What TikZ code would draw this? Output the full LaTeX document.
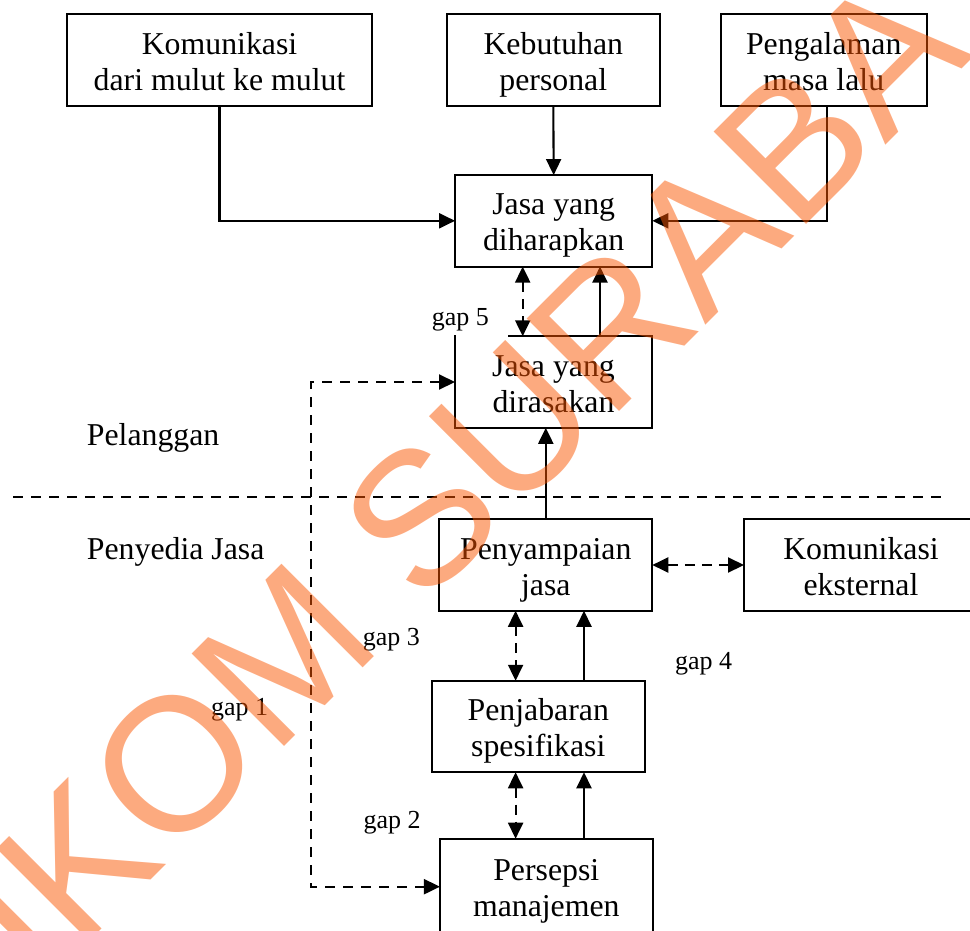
\documentclass[tikz,border=0pt]{standalone}
\usepackage{fontspec}
\setmainfont{Liberation Serif}
\newfontfamily\wmfont{Liberation Sans}
\usetikzlibrary{arrows.meta}
\definecolor{wm}{RGB}{250,85,0}
\begin{document}
\begin{tikzpicture}[x=1pt,y=-1pt,
  >={Triangle[length=16pt,width=15pt]},
  box/.style={draw, line width=2.1pt, inner sep=0pt, outer sep=0pt, align=center,
    font=\fontsize{31.8}{36}\selectfont, text height=60pt, text depth=0pt, minimum height=91.5pt},
  lbl/.style={font=\fontsize{26}{30}\selectfont, anchor=base west, inner sep=0pt},
  side/.style={font=\fontsize{31.8}{36}\selectfont, anchor=base west, inner sep=0pt},
  conn/.style={line width=2.1pt},
  arr/.style={conn, ->},
  darr/.style={conn, dash pattern=on 10pt off 7pt, <->},
  dline/.style={conn, dash pattern=on 10pt off 8pt}
]
\useasboundingbox (0,0) rectangle (970,930);

% boxes
\node[box, minimum width=305pt]   (A) at (219.5,60)  {Komunikasi\\dari mulut ke mulut};
\node[box, minimum width=213.3pt] (B) at (553.3,60)  {Kebutuhan\\personal};
\node[box, minimum width=206pt]   (D) at (823.7,60)  {Pengalaman\\masa lalu};
\node[box, minimum width=197.3pt] (C) at (553.7,220.8) {Jasa yang\\diharapkan};
\node[box, draw=none, minimum width=197pt] (E) at (553.5,382) {Jasa yang\\dirasakan};
\node[box, minimum width=213pt]   (F) at (545.8,565) {Penyampaian\\jasa};
\node[box, minimum width=234pt]   (G) at (861,565)   {Komunikasi\\eksternal};
\node[box, minimum width=213.3pt] (H) at (538.3,726.5) {Penjabaran\\spesifikasi};
\node[box, minimum width=212.7pt, minimum height=96pt] (P) at (546.3,886.7) {Persepsi\\manajemen};

% border of E (top edge interrupted near the label)
\coordinate (xEtop) at (508,0);
\draw[line width=2.1pt, line join=miter] (E.north -| xEtop) -- (E.north east) -- (E.south east) -- (E.south west) -- ([yshift=1.05pt]E.north west);

% helper coordinates
\coordinate (xD) at (827.3,0);
\coordinate (xCE1) at (522.7,0);
\coordinate (xCE2) at (600,0);
\coordinate (xL) at (515.6,0);
\coordinate (xR) at (584,0);
\coordinate (xg1) at (310.7,0);
\coordinate (sepL) at (13,496.7);
\coordinate (sepR) at (945,496.7);

% connectors
\draw[arr] (A.south) |- (C.west);
\draw[arr] (B.south) -- (C.north);
\draw[arr] (D.south -| xD) |- (C.east);
\draw[darr] (C.south -| xCE1) -- (E.north -| xCE1);
\draw[arr] (E.north -| xCE2) -- (C.south -| xCE2);
\draw[arr] (F.north) -- (F.north |- E.south);
\draw[darr] (F.east) -- (G.west);
\draw[darr] (F.south -| xL) -- (H.north -| xL);
\draw[arr] (H.north -| xR) -- (F.south -| xR);
\draw[darr] (H.south -| xL) -- (P.north -| xL);
\draw[arr] (P.north -| xR) -- (H.south -| xR);
\draw[dline, <->] (E.west) -- (E.west -| xg1) -- (P.west -| xg1) -- (P.west);
\draw[dline] (sepL) -- (sepR);

% labels
\node[lbl] (g5) at (431.7,325) {gap 5};
\node[lbl] (g3) at (362.7,645) {gap 3};
\node[lbl] (g4) at (675,669) {gap 4};
\node[lbl] (g1) at (211,715) {gap 1};
\node[lbl] (g2) at (363.3,828.3) {gap 2};
\node[side] (pel) at (86.7,445) {Pelanggan};
\node[side] (pj) at (86.7,559.3) {Penyedia Jasa};

% watermark
\node[font=\wmfont\fontsize{190}{190}\selectfont, text=wm, opacity=0.5, rotate=45, anchor=base, inner sep=0pt] (wmk) at (502,529) {STIKOM SURABAYA};
\end{tikzpicture}
\end{document}
